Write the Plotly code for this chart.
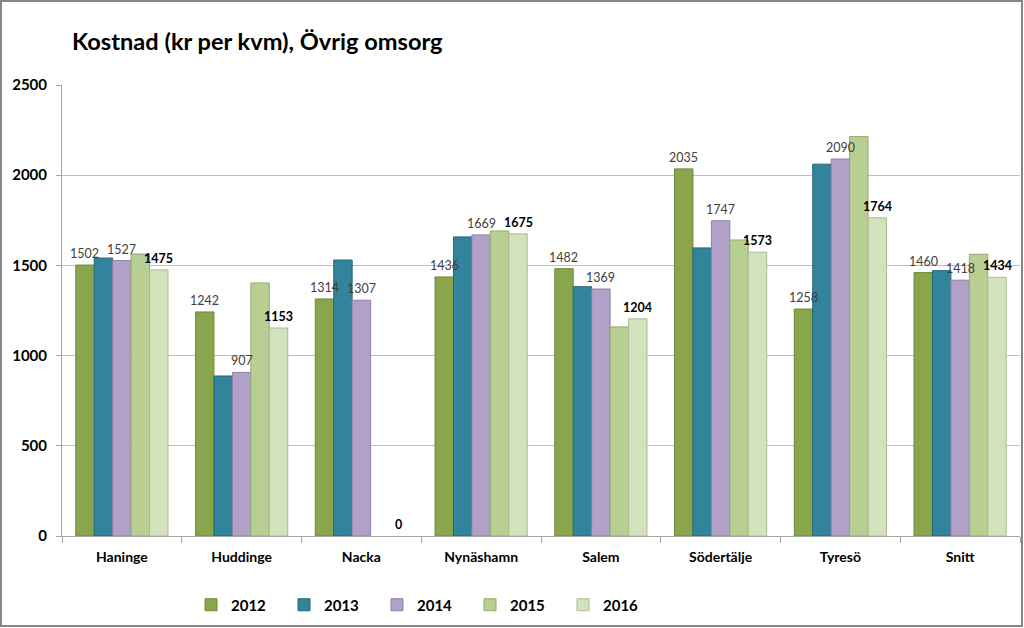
import plotly.graph_objects as go

categories = ["Haninge", "Huddinge", "Nacka", "Nynäshamn", "Salem", "Södertälje", "Tyresö", "Snitt"]
years = ["2012", "2013", "2014", "2015", "2016"]

v2012 = [1502, 1242, 1314, 1436, 1482, 2035, 1258, 1460]
v2013 = [1541, 887, 1530, 1658, 1382, 1597, 2061, 1471]
v2014 = [1527, 907, 1307, 1669, 1369, 1747, 2090, 1418]
v2015 = [1563, 1403, None, 1691, 1159, 1641, 2214, 1562]
v2016 = [1475, 1153, 0, 1675, 1204, 1573, 1764, 1434]

series = [v2012, v2013, v2014, v2015, v2016]
colors = ["#8AA64C", "#31849B", "#B1A0C7", "#B8CE93", "#D3E1BC"]
lines = ["#6F8A38", "#26687A", "#8F7FA6", "#93AD6C", "#A9BE8C"]
show_label = [True, False, True, False, True]
bold_label = [False, False, False, False, True]

FONT = "Lato, 'Open Sans', sans-serif"

L, R, T, B = 62, 4, 85, 92
W, H = 1024, 628
pw, ph = W - L - R, H - T - B
BARGAP = 0.23

def px_to_x(p):
    return (p - L) / pw

def px_to_y(p):
    return (H - B - p) / ph

fig = go.Figure()
for i, (yr, vals) in enumerate(zip(years, series)):
    lw = [0 if not v else 1 for v in vals]
    fig.add_trace(go.Bar(
        name="<b>%s</b>" % yr, x=categories, y=vals,
        marker=dict(color=colors[i], line=dict(color=lines[i], width=lw)),
    ))

# data labels on top of all bars (annotations anchored to the data)
group_px = pw / len(categories)
bar_px = group_px * (1 - BARGAP) / len(years)
for i, vals in enumerate(series):
    if not show_label[i]:
        continue
    shift = (i - (len(years) - 1) / 2) * bar_px
    for cat, v in zip(categories, vals):
        if v is None:
            continue
        t = str(v)
        if bold_label[i]:
            t = "<b>%s</b>" % t
        fig.add_annotation(
            x=cat, y=v, xref="x", yref="y", text=t, showarrow=False,
            xshift=shift, yanchor="bottom", yshift=2,
            font=dict(size=12.5, family=FONT, color="#000000" if bold_label[i] else "#404040"),
        )

fig.update_layout(
    width=W, height=H,
    margin=dict(l=L, r=R, t=T, b=B),
    paper_bgcolor="white", plot_bgcolor="white",
    barmode="group", bargap=BARGAP, bargroupgap=0,
    font=dict(family=FONT, color="#000000"),
    title=dict(text="<b>Kostnad (kr per kvm), Övrig omsorg</b>",
               x=72 / W, xanchor="left", xref="container",
               y=1 - 42 / H, yanchor="middle", yref="container",
               font=dict(size=23.6, family=FONT, color="#000000")),
    xaxis=dict(showline=True, linecolor="#A6A6A6", linewidth=1,
               ticks="outside", tickson="boundaries", ticklen=6, tickcolor="#A6A6A6",
               tickfont=dict(size=14, family=FONT, color="#000000"),
               ticklabelstandoff=8,
               tickprefix="<b>", ticksuffix="</b>",
               showgrid=False),
    yaxis=dict(range=[0, 2500], dtick=500, showline=True, linecolor="#A6A6A6", linewidth=1,
               ticks="outside", ticklen=5, tickcolor="#A6A6A6",
               gridcolor="#BFBFBF", gridwidth=1, zeroline=False,
               ticklabelstandoff=6,
               tickfont=dict(size=15, family=FONT, color="#000000"),
               tickprefix="<b>", ticksuffix="</b>"),
    legend=dict(orientation="h", x=px_to_x(191), xanchor="left",
                y=px_to_y(605), yanchor="middle",
                font=dict(size=15, family=FONT, color="#000000"),
                entrywidth=48, entrywidthmode="pixels",
                traceorder="normal", itemclick=False),
    showlegend=True,
)

# outer frame
fig.add_shape(type="rect", xref="paper", yref="paper",
              x0=px_to_x(1), x1=px_to_x(1022), y0=px_to_y(626), y1=px_to_y(1),
              line=dict(color="#868686", width=2), fillcolor="rgba(0,0,0,0)", layer="above")

fig.write_html("out.html", config={"displayModeBar": False},
               post_script="document.body.style.margin='0';document.body.style.overflow='hidden';")
